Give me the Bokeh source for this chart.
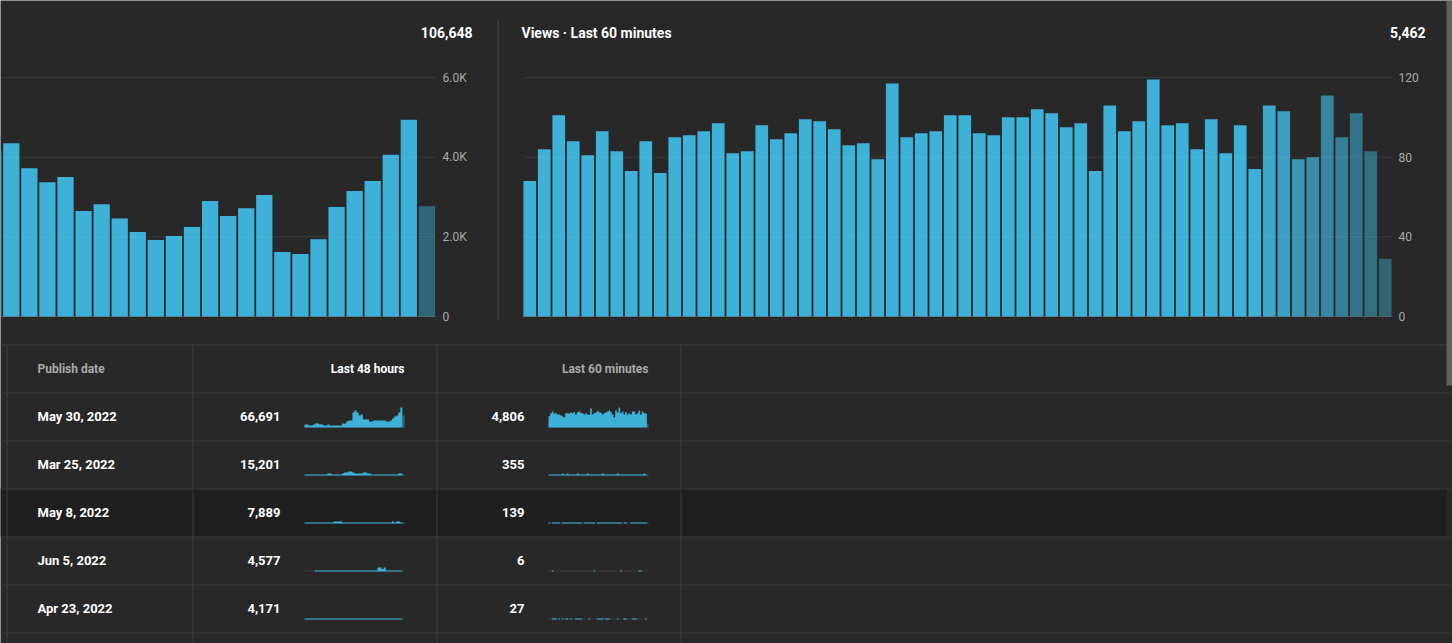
import numpy as np
from bokeh.plotting import figure
from bokeh.models import Range1d, ColumnDataSource
from bokeh.embed import file_html
from bokeh.resources import INLINE
from bokeh.core.properties import value

# ---------------------------------------------------------------- data
# Channel views per hour (last 25 of the 48 hours; the final one is still running)
hourly_views = [4160, 4350, 3720, 3370, 3500, 2650, 2820, 2460, 2120, 1920, 2020, 2250, 2900,
                2520, 2720, 3050, 1620, 1570, 1940, 2750, 3150, 3400, 4060, 4940, 2770]
total_48h = 106648
hour_ticks = [0, 2000, 4000, 6000]
hour_tick_labels = ["0", "2.0K", "4.0K", "6.0K"]

# Channel views per minute, last 60 minutes
minute_views = [68, 84, 101, 88, 81, 93, 83, 73, 88, 72, 90, 91, 93, 97, 82, 83, 96, 89, 92, 99,
                98, 94, 86, 87, 79, 117, 90, 92, 93, 101, 101, 92, 91, 100, 100, 104, 102, 95, 97, 73,
                106, 93, 98, 119, 96, 97, 84, 99, 82, 96, 74, 106, 103, 79, 80, 111, 90, 102, 83, 29]
minute_ticks = [0, 40, 80, 120]
minute_tick_labels = ["0", "40", "80", "120"]

# Top content table
publish_dates = ["May 30, 2022", "Mar 25, 2022", "May 8, 2022", "Jun 5, 2022", "Apr 23, 2022"]
views_48h = [66691, 15201, 7889, 4577, 4171]
views_60m = [4806, 355, 139, 6, 27]

spark_48h = [
    [621, 615, 414, 420, 630, 828, 820, 625, 610, 414, 410, 620, 414, 420, 405, 414, 418, 410, 828, 835,
     1242, 1449, 1455, 3105, 3519, 3100, 2484, 2691, 1656, 1650, 1660, 1242, 1250, 1449, 1440, 1455,
     1449, 1445, 1450, 1242, 1240, 1449, 1863, 2277, 2484, 3105, 4140, 2484],
    [190, 200, 195, 185, 205, 190, 200, 195, 190, 200, 195, 420, 410, 195, 190, 200, 195, 190, 420, 620,
     610, 830, 820, 620, 420, 410, 430, 420, 620, 630, 420, 410, 195, 190, 200, 195, 185, 200, 195, 190,
     200, 195, 190, 200, 195, 420, 410, 180],
    [120, 115, 125, 110, 120, 130, 115, 120, 110, 125, 120, 115, 120, 125, 410, 420, 415, 405, 120, 115,
     125, 120, 110, 130, 120, 115, 120, 125, 110, 120, 115, 130, 120, 125, 110, 120, 115, 120, 125, 120,
     115, 110, 414, 200, 420, 410, 120, 105],
    [0, 0, 0, 0, 0, 40, 45, 38, 42, 35, 40, 44, 39, 41, 36, 42, 40, 38, 45, 41, 39, 43, 37, 40, 42,
     38, 41, 44, 40, 36, 42, 39, 41, 43, 40, 830, 830, 520, 830, 42, 38, 41, 40, 44, 39, 42, 40, 0],
    [88, 92, 85, 90, 87, 95, 83, 89, 91, 86, 88, 94, 82, 90, 87, 89, 93, 85, 88, 90, 86, 92, 84, 89,
     91, 87, 88, 95, 83, 90, 86, 89, 92, 85, 88, 91, 87, 90, 84, 89, 93, 86, 88, 90, 85, 89, 92, 0],
]
spark_60m = [
    [63, 80, 91, 79, 81, 73, 74, 68, 62, 57, 80, 81, 79, 85, 80, 86, 73, 85, 91, 84,
     80, 73, 81, 74, 72, 108, 73, 80, 85, 92, 86, 84, 73, 80, 85, 91, 96, 86, 73, 57,
     96, 85, 113, 80, 91, 73, 86, 74, 80, 73, 91, 90, 73, 81, 96, 74, 91, 80, 79, 23],
    [5, 6, 5, 5, 5, 6, 5, 5, 11, 5, 5, 11, 6, 5, 5, 5, 6, 11, 5, 5, 6, 5, 5, 11, 5, 5, 6, 5, 5, 6,
     5, 5, 11, 5, 6, 5, 5, 5, 6, 5, 5, 11, 5, 6, 5, 5, 5, 6, 5, 5, 6, 5, 5, 5, 6, 5, 5, 11, 5, 5],
    [3, 0, 2, 3, 3, 2, 3, 0, 3, 2, 3, 3, 2, 3, 3, 2, 3, 3, 2, 3, 0, 3, 2, 3, 3, 2, 3, 2, 0, 3,
     3, 2, 3, 3, 2, 3, 3, 2, 3, 3, 2, 3, 3, 2, 0, 3, 2, 0, 0, 3, 2, 3, 3, 2, 3, 3, 2, 2, 3, 2],
    [0, 0, 1, 0, 0, 0, 0, 0, 0, 0, 0, 0, 0, 0, 0, 0, 0, 0, 0, 0, 0, 0, 0, 0, 0, 0, 0, 1, 0, 0,
     0, 0, 0, 0, 0, 0, 0, 0, 0, 0, 0, 0, 0, 1, 0, 0, 0, 0, 0, 0, 0, 0, 0, 0, 1, 2, 0, 0, 0, 0],
    [0, 0, 1, 1, 1, 0, 1, 0, 1, 0, 1, 1, 0, 1, 0, 0, 1, 1, 1, 1, 0, 0, 0, 0, 1, 0, 0, 0, 0, 1,
     1, 1, 1, 0, 1, 1, 1, 0, 0, 0, 0, 1, 0, 0, 0, 1, 1, 0, 0, 0, 1, 1, 1, 0, 0, 0, 0, 0, 1, 0],
]

# ---------------------------------------------------------------- style
BG = "#282828"
BAR = "#3eb1d8"
WHITE = "#ffffff"
MUTED = "#aaaaaa"
RULE = "#3d3d3d"
HILITE = "#1f1f1f"
SCROLL = "#5f5f5f"
FONT = "Roboto"

PAGE_W, PAGE_H = 1452, 643

# One canvas for the whole dashboard; its main ranges are page pixels (y grows downward),
# every chart gets its own data ranges through extra_x_ranges / extra_y_ranges.
p = figure(width=PAGE_W, height=PAGE_H, x_range=Range1d(0, PAGE_W), y_range=Range1d(PAGE_H, 0),
           output_backend="svg", toolbar_location=None, x_axis_location=None, y_axis_location=None,
           min_border=0, background_fill_color=BG, border_fill_color=BG, outline_line_color=None)
p.xgrid.visible = False
p.ygrid.visible = False

x_ranges, y_ranges = {}, {}


def index_range(name, center_px, index, pitch_px):
    """Slot index -> page pixels: slot `index` centred at `center_px`."""
    start = index - center_px / pitch_px
    x_ranges[name] = Range1d(start, start + PAGE_W / pitch_px)


def value_range(name, zero_px, tick, tick_px):
    """Value scale whose 0 sits at `zero_px` and `tick` at `tick_px`."""
    per = tick / (zero_px - tick_px)
    y_ranges[name] = Range1d(-(PAGE_H - zero_px) * per, zero_px * per)


ZERO_Y, TOP_TICK_Y = 316, 77

# ---- left chart: views per hour
index_range("hx", 10.8, 1, 18.07)
value_range("hy", ZERO_Y, hour_ticks[-1], TOP_TICK_Y)
# ---- right chart: views per minute
index_range("mx", 529.25, 1, 14.5)
value_range("my", ZERO_Y, minute_ticks[-1], TOP_TICK_Y)

# ---- table sparklines
ROW_Y0, ROW_H = 416, 48
n_rows = len(publish_dates)
row_y = [ROW_Y0 + i * ROW_H for i in range(n_rows)]
SPARK_MAX_PX = 20
SPARK_DROP = 11   # baseline below the row centre
k48 = max(max(s) for s in spark_48h) / SPARK_MAX_PX
k60 = max(max(s) for s in spark_60m) / SPARK_MAX_PX
index_range("s48", 304 + 100 / 48 / 2, 0.5, 100 / 48)
index_range("s60", 548 + 100 / 60 / 2, 0.5, 100 / 60)
for i, y in enumerate(row_y):
    base = y + SPARK_DROP
    y_ranges[f"r{i}h48"] = Range1d((base - PAGE_H) * k48, base * k48)
    y_ranges[f"r{i}m60"] = Range1d((base - PAGE_H) * k60, base * k60)

p.extra_x_ranges = x_ranges
p.extra_y_ranges = y_ranges


def hline(x0, x1, ys, color, alpha=1.0, y_range_name="default"):
    """1px horizontal rules drawn as filled rects."""
    n = len(ys)
    p.rect(x=[(x0 + x1) / 2] * n, y=ys, width=[x1 - x0] * n, height=1, height_units="screen",
           fill_color=color, fill_alpha=alpha, line_color=None, y_range_name=y_range_name)


def vline(xs, y0, y1, color):
    n = len(xs)
    p.rect(x=xs, y=[(y0 + y1) / 2] * n, width=1, width_units="screen", height=[y1 - y0] * n,
           fill_color=color, line_color=None)


# ---------------------------------------------------------------- table background & rules
HOVER_ROW = 2
p.quad(left=[0], right=[1446], top=[row_y[HOVER_ROW] - ROW_H / 2],
       bottom=[row_y[HOVER_ROW] + ROW_H / 2], color=HILITE, line_color=None)
hline(0, PAGE_W, [344.5] + [y + ROW_H / 2 + 0.5 for y in [368] + row_y], RULE)
vline([6.5, 192.5, 436.5, 680.5], 344, PAGE_H, RULE)

# divider between the two charts
vline([497.5], 20, 320, "#474747")

# ---------------------------------------------------------------- bar charts
n_h = len(hourly_views)
hour_alpha = np.ones(n_h)
hour_alpha[-1] = 0.46
p.vbar(x="x", top="top", bottom=0, width=0.9, fill_color=BAR, fill_alpha="alpha", line_color=None,
       source=ColumnDataSource(dict(x=np.arange(n_h), top=hourly_views, alpha=hour_alpha)),
       x_range_name="hx", y_range_name="hy")

n_m = len(minute_views)
minute_alpha = np.ones(n_m)
minute_alpha[-9:] = np.linspace(0.93, 0.44, 9)
p.vbar(x="x", top="top", bottom=0, width=0.875, fill_color=BAR, fill_alpha="alpha", line_color=None,
       source=ColumnDataSource(dict(x=np.arange(1, n_m + 1), top=minute_views, alpha=minute_alpha)),
       x_range_name="mx", y_range_name="my")


def value_axis(yr, ticks, labels, x_left, x_right, label_x):
    hline(x_left, x_right, ticks[1:], WHITE, 0.08, yr)
    hline(x_left, x_right, ticks[:1], WHITE, 0.18, yr)
    p.text(x=[label_x] * len(ticks), y=ticks, text=labels, y_range_name=yr,
           text_font=value(FONT), text_font_size="12px", text_color=MUTED,
           text_align="left", text_baseline="middle")


value_axis("hy", hour_ticks, hour_tick_labels, 0, 435, 442)
value_axis("my", minute_ticks, minute_tick_labels, 522, 1392, 1398)

head = dict(text_font=value(FONT), text_font_size="14px", text_font_style="bold",
            text_color=WHITE, text_baseline="middle")
p.text(x=[472], y=[32], text=[f"{total_48h:,}"], text_align="right", **head)
p.text(x=[521], y=[32], text=["Views · Last 60 minutes"], text_align="left", **head)
p.text(x=[1425], y=[32], text=[f"{sum(minute_views):,}"], text_align="right", **head)

# page scrollbar
p.quad(left=[1446], right=[1452], top=[0], bottom=[385], color=SCROLL, line_color=None)

# ---------------------------------------------------------------- table text
hdr = dict(text_font=value(FONT), text_font_size="12px", text_font_style="bold", text_baseline="middle")
p.text(x=[37], y=[368], text=["Publish date"], text_align="left", text_color=MUTED, **hdr)
p.text(x=[404], y=[368], text=["Last 48 hours"], text_align="right", text_color=WHITE, **hdr)
p.text(x=[648], y=[368], text=["Last 60 minutes"], text_align="right", text_color=MUTED, **hdr)

rows = ColumnDataSource(dict(
    y=row_y,
    date=publish_dates,
    v48=[f"{v:,}" for v in views_48h],
    v60=[f"{v:,}" for v in views_60m],
))
cell = dict(source=rows, text_font=value(FONT), text_font_size="13px", text_font_style="bold",
            text_baseline="middle", text_color=WHITE)
p.text(x=37, y="y", text="date", text_align="left", **cell)
p.text(x=280, y="y", text="v48", text_align="right", **cell)
p.text(x=524, y="y", text="v60", text_align="right", **cell)


def sparkline(vals, xr, yr, k):
    """Step-area sparkline; the running (last) interval is drawn dimmer."""
    v = np.asarray(vals, dtype=float)
    n = len(v)
    h = np.where(v > 0, np.maximum(v, k), 0.0)   # anything non-zero shows at least 1px
    p.quad(left=[0], right=[n], bottom=[0], top=[k], color="#3f3f3f", line_color=None,
           x_range_name=xr, y_range_name=yr)
    m = n - 1
    xs = np.repeat(np.arange(m + 1), 2)[1:-1]
    ys = np.repeat(h[:m], 2)
    p.patch(x=np.concatenate([xs, [m, 0]]), y=np.concatenate([ys, [0, 0]]),
            fill_color=BAR, line_color=None, x_range_name=xr, y_range_name=yr)
    if h[-1] > 0:
        p.vbar(x=[m + 0.5], top=[h[-1]], bottom=0, width=1.0, fill_color=BAR, fill_alpha=0.45,
               line_color=None, x_range_name=xr, y_range_name=yr)


for i in range(n_rows):
    sparkline(spark_48h[i], "s48", f"r{i}h48", k48)
    sparkline(spark_60m[i], "s60", f"r{i}m60", k60)

open("out.html", "w").write(file_html(p, INLINE))
